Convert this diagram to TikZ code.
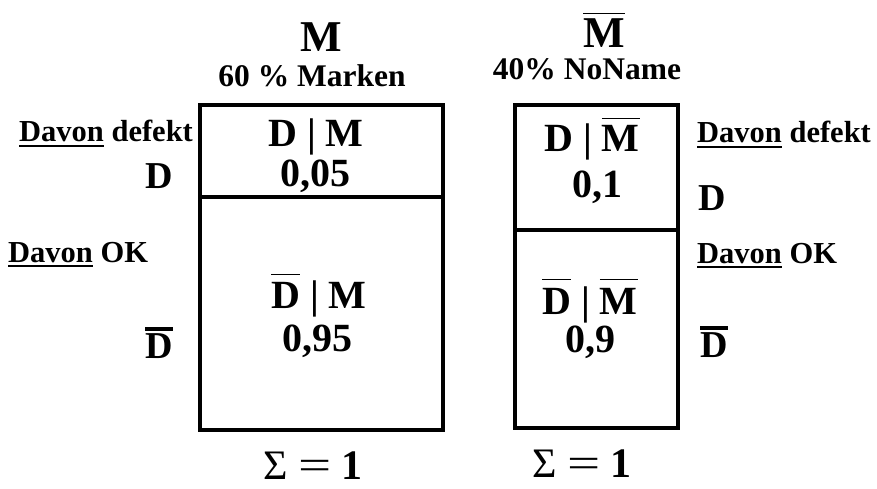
\documentclass[tikz,border=0pt]{standalone}
\usepackage{fontspec}
\usepackage{graphicx}
\setmainfont{Liberation Serif}
\usetikzlibrary{positioning}
\newcommand{\fs}[1]{\fontsize{#1}{#1}\selectfont\bfseries}
% bar over a letter, thickness and gap as options
\newcommand{\quer}[3][1.3pt]{\vbox{\hrule height #1\kern #2\hbox{#3}}}
\newcommand{\unter}[1]{\vtop{\hbox{#1}\kern 2.5pt\hrule height 2.5pt}}
\newcommand{\summe}{{\mdseries Σ\hspace{0.25em}\scalebox{1.4}[1]{=}\hspace{0.25em}}1}
\tikzstyle{box}=[draw, line width=3.5pt]
\tikzstyle{hd}=[inner sep=0, anchor=base, font=\fs{44}]
\tikzstyle{sub}=[inner sep=0, anchor=base, font=\fs{31.5}]
\tikzstyle{lbl}=[inner sep=0, anchor=base west, font=\fs{30.5}]
\tikzstyle{ev}=[inner sep=0, anchor=base west, font=\fs{38}]
\tikzstyle{cell}=[inner sep=0, anchor=base, font=\fs{40}]
\tikzstyle{num}=[inner sep=0, anchor=base, font=\fs{40}]
\tikzstyle{sum}=[inner sep=0, anchor=base, font=\fs{42}]
\begin{document}
\begin{tikzpicture}[x=1pt, y=-1pt]
\useasboundingbox (0,0) rectangle (877,489);
% Marken
\draw[box] (200,105) rectangle (443,430);
\draw[box] (200,197) -- (443,197);
\node[hd] (mk) at (321,52) {M};
\node[sub] (mktxt) at (312,87) {60 \% Marken};
\node[cell] (dm) at (316,147) {D | M};
\node[num] (dmval) at (315,186) {0,05};
\node[cell] (ndm) at (319,308) {\quer{7pt}{D} | M};
\node[num] (ndmval) at (317,351) {0,95};
\node[sum] (msum) at (313,479) {\summe};
% NoName
\draw[box] (515,105) rectangle (678,428);
\draw[box] (515,230) -- (678,230);
\node[hd] (nn) at (604,48) {\quer{5pt}{M}};
\node[sub] (nnt) at (587,80) {40\% NoName};
\node[cell] (dnn) at (592,152) {D | \quer{7pt}{M}};
\node[num] (dnnval) at (597,197) {0,1};
\node[cell] (ndnn) at (590,314) {\quer{8pt}{D} | \quer{8pt}{M}};
\node[num] (ndnnval) at (590,352) {0,9};
\node[sum] (nnsum) at (582,477) {\summe};
% Beschriftung links
\node[lbl] (ldef) at (19,142) {\unter{Davon} defekt};
\node[ev] (ld) at (145,188) {D};
\node[lbl] (lok) at (8,262) {\unter{Davon} OK};
\node[ev] (lnd) at (145,358) {\quer[4pt]{2.5pt}{D}};
% Beschriftung rechts
\node[lbl] (rdef) at (697,143) {\unter{Davon} defekt};
\node[ev] (rd) at (698,210) {D};
\node[lbl] (rok) at (697,263) {\unter{Davon} OK};
\node[ev] (rnd) at (700,357) {\quer[4pt]{2.5pt}{D}};
\end{tikzpicture}
\end{document}
